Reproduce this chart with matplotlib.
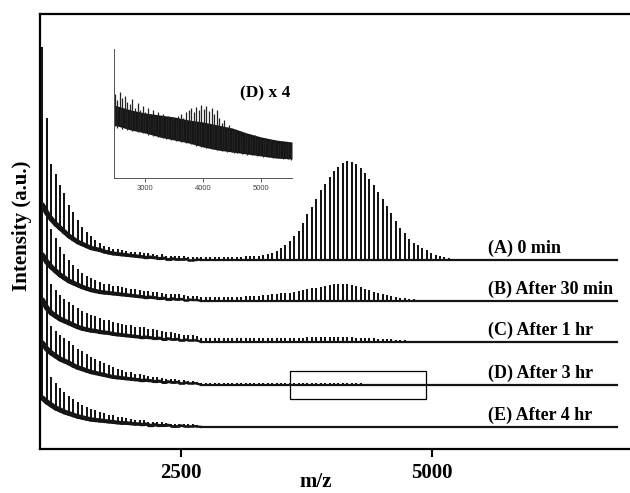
#! /usr/bin/env python
import numpy as np
import matplotlib
matplotlib.use('Agg')
from matplotlib import pyplot as plt
from matplotlib.patches import Rectangle
from matplotlib.collections import LineCollection

plt.rcParams['font.family'] = ['Liberation Serif', 'DejaVu Serif']
plt.rcParams['font.weight'] = 'bold'

# PEG ladder -- one peak every 44 Da, first one at 1120
first_peak = 1120
repeat = 44
trace_end = 6845

labels = ['(A) 0 min', '(B) After 30 min', '(C) After 1 hr',
          '(D) After 3 hr', '(E) After 4 hr']
offsets = [189, 148, 107, 64, 22]   # stacking offset of each trace (a.u.)

# rise of the baseline above the offset at the first peaks (low mass matrix hump)
A_rise = [55, 47, 41, 36, 32, 28, 24, 21, 18, 16, 14, 12, 11, 10, 8.5, 7.5, 6.5, 6,
          5.5, 5, 4.5, 4, 3.5, 3, 3, 2.5, 2, 2, 1.5, 1.5, 1, 1, 1, 0.5, 0.5, 0.5]
B_rise = [46, 39, 34, 30, 26, 23, 20, 18, 16, 14, 12.5, 11, 10, 9, 8.5, 8, 7.5, 7,
          6.5, 6, 5.5, 5, 4.5, 4, 4, 3.5, 3, 3, 2.5, 2.5, 2, 2, 1.5, 1.5, 1, 1]
C_rise = [42, 34, 29, 26, 23, 21, 19, 17, 15, 13.5, 12.5, 11.5, 11, 10, 9.5, 9, 8,
          7.5, 7, 6.5, 6, 5.5, 5, 5, 4.5, 4, 4, 3.5, 3.5, 3, 3, 2.5, 2.5, 2, 2, 1.5]
D_rise = [42, 36, 32, 29, 26, 24, 22, 19.5, 17.5, 16, 14.5, 13, 12, 11, 10, 9, 8,
          7.5, 7, 6.5, 6, 5.5, 5, 5, 4.5, 4, 4, 3.5, 3.5, 3, 3, 2.5, 2.5, 2, 2, 1.5]
E_rise = [29, 25, 22, 19, 17, 15, 13.5, 12, 10.5, 9.5, 8.5, 7.5, 7, 6.5, 6, 5.5, 5,
          4.5, 4, 4, 3.5, 3, 3, 3, 2.5, 2.5, 2, 2, 2, 1.5, 1.5, 1.5, 1, 1, 1, 0.5]

# peak heights above the baseline, one per ladder peak
A_h = [158, 95, 55, 50, 43, 39, 31, 27, 22, 17, 14, 12, 9, 7,
       6, 6, 5, 5, 5, 4, 4, 4, 5, 4, 4, 4, 3, 4, 3, 3, 3, 3, 3, 3, 3, 3, 3,
       3, 3, 3, 3, 3, 3, 3, 3, 3, 4, 4,
       4, 4, 5, 6, 7, 9, 12, 15, 19, 24, 29, 37, 46, 53, 61, 70, 76, 83, 89, 93,
       97, 99, 98, 96, 92, 87, 81, 75, 68, 61, 54, 47, 39, 32, 27, 21, 17, 15, 12,
       10, 7, 5, 4, 3, 2, 1.5, 1]
B_h = [95, 70, 38, 33, 28, 24, 21, 18, 16, 14, 13, 12, 11, 10, 9, 9, 8, 8, 8, 7,
       7, 7, 7, 6, 6, 6, 6, 5, 5, 5, 5, 5, 5, 4, 4, 4, 4, 4, 4, 4, 4, 4, 4, 4,
       4, 4, 5, 5,
       5, 5, 6, 6, 7, 7, 8, 8, 8, 9, 10, 11, 12, 13, 13, 14, 15, 16, 17, 17, 17,
       17, 16, 15, 14, 12, 11, 9, 8, 7, 6, 5, 4, 3, 3, 2, 2, 1.5, 1]
C_h = [100, 55, 29, 26, 24, 22, 21, 20, 19, 18, 17, 16, 15, 14, 13, 13, 12, 12,
       11, 11, 11, 10, 10, 10, 9, 9, 8, 8, 7, 7, 6, 6, 5, 5, 5, 5,
       4, 4, 4, 4, 4, 4, 4, 4, 4, 4, 4, 4,
       4, 4, 4, 4, 4, 4, 4, 4, 4, 4, 4, 4, 5, 5, 5, 5, 5, 5, 5, 5, 5, 5, 5,
       4, 4, 4, 4, 4, 3, 3, 3, 3, 2, 2, 2, 1.5, 1]
D_h = [110, 60, 27, 25, 24, 23, 22, 21, 19, 18, 17, 15, 14, 13, 12, 11, 10, 9, 8,
       7, 7, 6, 6, 5, 5, 4, 4, 4, 3, 3, 3, 3, 3, 2, 2, 2, 2, 2, 2, 2, 2, 2, 2,
       2, 2, 2, 2, 2,
       2, 2, 2, 2, 2, 2, 2, 2, 2, 2, 2, 2, 2, 2, 2, 2, 2, 2, 2, 2, 2, 2, 2, 2, 2,
       1.5, 1.5, 1.5, 1.5, 1.5, 1, 1, 1, 1, 1, 1, 1]
E_h = [120, 50, 28, 25, 22, 20, 18, 16, 15, 13, 12, 11, 10, 9, 8, 7, 7, 6, 6, 5,
       5, 4, 4, 4, 3, 3, 3, 3, 2, 2, 2, 2, 2, 2, 2, 2,
       1.5, 1.5, 1.5, 1.5, 1.5, 1.5, 1.5, 1.5, 1.5, 1.5, 1.5, 1.5,
       1, 1, 1, 1, 1, 1, 1, 1, 1, 1, 1, 1]

rises = [A_rise, B_rise, C_rise, D_rise, E_rise]
heights = [A_h, B_h, C_h, D_h, E_h]

# zoomed box on trace D
box_mz = (3590, 4940)
box_y = (50, 78)

# inset: trace D x 4
band_mz = [2460, 2750, 3000, 3250, 3500, 3750, 4000, 4250, 4500, 4750, 5000, 5250, 5530]
band_hi = [73, 68, 65, 63, 61, 58, 56, 53, 50, 45, 41, 38, 36]
band_lo = [53, 48, 45, 41, 38, 35, 31, 28, 26, 24, 22, 20, 19]
inset_top = [84, 78, 86, 80, 82, 76, 74, 79, 70, 75, 68, 72,
             66, 70, 64, 68, 63, 66, 61, 64, 60, 62, 59, 61,
             58, 62, 64, 60, 66, 68, 70, 66, 71, 68, 73, 69,
             72, 67, 70, 64, 68, 60, 55, 58, 50, 53, 47, 49,
             45, 47, 43, 45, 42, 44, 40, 43, 39, 41, 38, 40,
             37, 39, 36, 38, 35, 37, 35, 34, 36, 33]
inset_low = [52, 50, 53, 49, 51, 48, 49, 47, 48, 46, 47, 45,
             45, 43, 44, 42, 43, 41, 41, 40, 39, 40, 38, 39,
             37, 38, 36, 37, 35, 36, 34, 35, 32, 33, 31, 32,
             30, 31, 29, 30, 28, 29, 27, 28, 26, 27, 26, 25,
             25, 26, 24, 25, 23, 24, 23, 24, 22, 23, 21, 22,
             21, 22, 20, 21, 20, 20, 19, 20, 19, 18]
inset_first = 2470

ink = '#151515'

fig = plt.figure(figsize=(6.3, 4.93), dpi=100)
ax = fig.add_axes([40/630, 1 - 449/493, 590/630, 435/493])

for lab, off, rise, h in zip(labels, offsets, rises, heights):
    h = np.array(h, float)
    mz = first_peak + repeat * np.arange(len(h))
    lift = np.zeros(len(h))
    lift[:len(rise)] = rise
    base = off + lift
    ax.vlines(mz, base, base + h, color=ink, lw=1.45)
    # thick noisy band at low mass, thinning out towards the flat baseline
    k = len(rise)
    pts = np.column_stack([mz[:k + 1], base[:k + 1]])
    segs = np.stack([pts[:-1], pts[1:]], axis=1)
    ax.add_collection(LineCollection(segs, colors=ink,
                                     linewidths=np.linspace(3.8, 1.7, k),
                                     capstyle='round'))
    ax.plot(np.r_[mz[k:], trace_end], np.r_[base[k:], off], color=ink, lw=1.6)
    ax.text(5558, off + 7, lab, fontsize=13, fontweight='bold', va='baseline')

ax.add_patch(Rectangle((box_mz[0], box_y[0]), box_mz[1] - box_mz[0],
                       box_y[1] - box_y[0], fill=False, ec='black', lw=0.9))

ax.set_xlim(1096, 6972)
ax.set_ylim(0, 435)
ax.set_xticks([2500, 5000])
ax.set_yticks([])
ax.tick_params(axis='x', length=6, width=1.5, labelsize=15, pad=4)
for s in ['top', 'left', 'bottom']:
    ax.spines[s].set_linewidth(1.6)
ax.spines['right'].set_visible(False)

fig.text(316/630, 1 - 472/493, 'm/z', ha='center', va='top', fontsize=15, fontweight='bold')
fig.text(22/630, 1 - 226/493, 'Intensity (a.u.)', rotation=90, ha='center',
         va='center', fontsize=15, fontweight='bold')

# inset
axi = fig.add_axes([114/630, 1 - 178/493, 178/630, 129/493])
axi.fill_between(band_mz, band_lo, band_hi, color=ink, lw=0)
imz = inset_first + repeat * np.arange(len(inset_top))
axi.vlines(imz, inset_low, inset_top, color='#222222', lw=0.9)
axi.set_xlim(2460, 5530)
axi.set_ylim(0, 129)
axi.set_xticks([3000, 4000, 5000])
axi.set_yticks([])
axi.tick_params(axis='x', length=3, width=0.6, colors='#444444', labelsize=5.5, pad=2)
for t in axi.get_xticklabels():
    t.set_family(['Liberation Sans', 'DejaVu Sans'])
    t.set_fontweight('normal')
for s in ['top', 'right']:
    axi.spines[s].set_visible(False)
for s in ['left', 'bottom']:
    axi.spines[s].set_linewidth(0.7)
    axi.spines[s].set_color('#555555')
axi.patch.set_alpha(0)
axi.text(4638, 81, '(D) x 4', fontsize=12.5, fontweight='bold', va='baseline')

fig.savefig('out.png', dpi=100)
